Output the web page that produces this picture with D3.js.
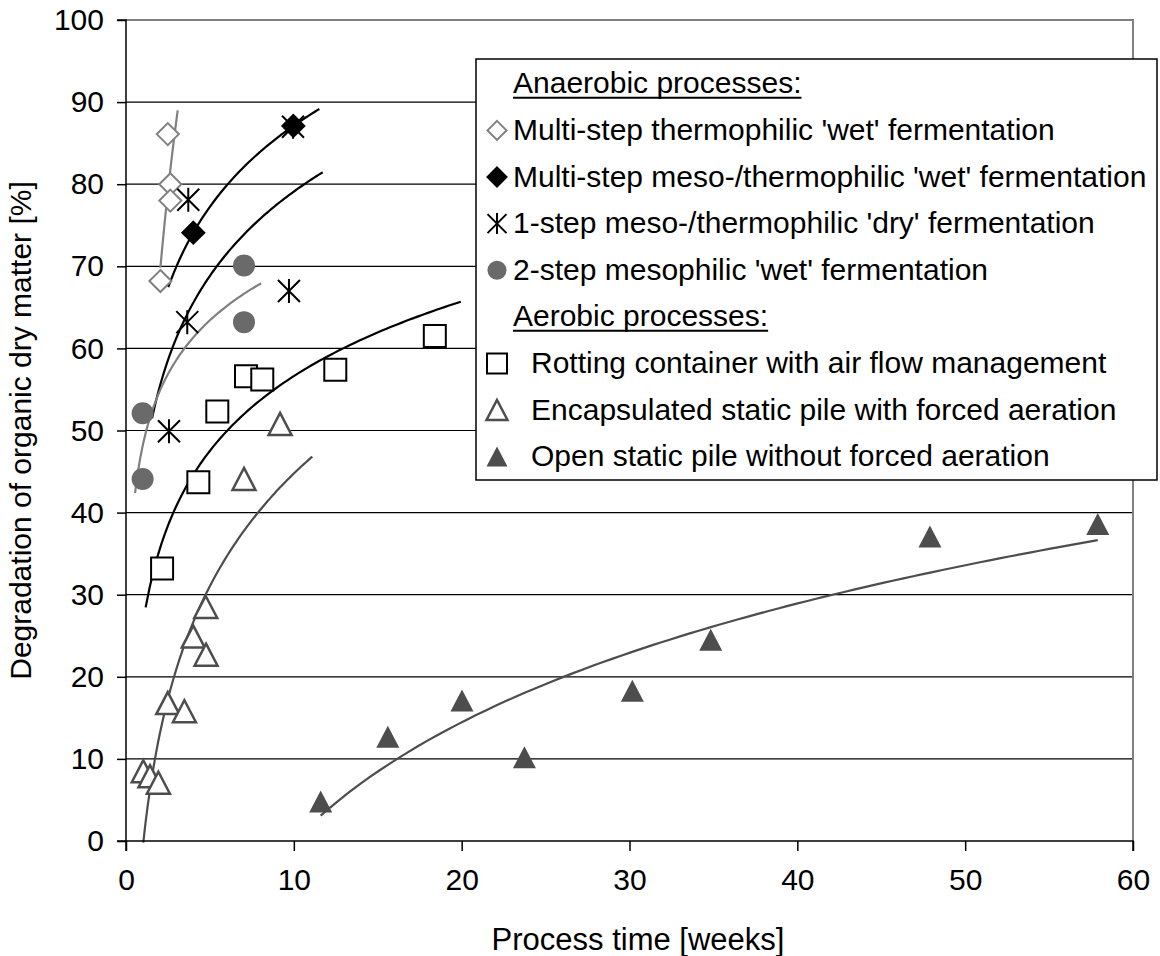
<!DOCTYPE html>
<html>
<head>
<meta charset="utf-8">
<script src="https://cdn.jsdelivr.net/npm/d3@7"></script>
<style>
  body { margin: 0; background: #fff; }
  text { font-family: Arial, "Liberation Sans", sans-serif; fill: #000; }
</style>
</head>
<body>
<svg id="chart" width="1160" height="956"></svg>
<script>
// tick values
const xTicks = [0, 10, 20, 30, 40, 50, 60]
const yTicks = [0, 10, 20, 30, 40, 50, 60, 70, 80, 90, 100]

// [process time in weeks, degradation %]
const thermoWet = [[2.49, 86.1], [2.64, 80.0], [2.64, 78.0], [2.05, 68.2]]
const mesoThermoWet = [[4.01, 74.1], [9.97, 87.1]]
const dryFerm = [[2.56, 49.9], [3.65, 63.2], [3.71, 78.1], [9.71, 67.0], [9.95, 87.0]]
const mesoWet = [[0.99, 52.1], [0.99, 44.1], [7.03, 70.1], [7.03, 63.2]]
const rotting = [[2.15, 33.2], [4.31, 43.7], [5.44, 52.3], [7.15, 56.6], [8.12, 56.2], [12.47, 57.4], [18.4, 61.5]]
const encapsulated = [[1.03, 8.5], [1.43, 7.9], [1.93, 7.1], [2.49, 16.8], [3.48, 15.8], [4.01, 24.9],
  [4.77, 22.7], [4.75, 28.5], [7.03, 44.1], [9.18, 50.8]]
const openPile = [[11.6, 4.8], [15.6, 12.7], [20.02, 17.1], [23.74, 10.2], [30.17, 18.3], [34.84, 24.5],
  [47.9, 37.1], [57.9, 38.6]]

// x extent of each logarithmic trend line (weeks)
const trendRanges = [[2.05, 3.08], [2.52, 11.52], [1.55, 11.72], [0.54, 8.05], [1.17, 19.95], [1.03, 11.1], [11.6, 57.9]]

const series = [
  {name: "Multi-step thermophilic 'wet' fermentation", data: thermoWet, shape: 'diamond', fill: '#fff', stroke: '#808080', line: '#808080'},
  {name: "Multi-step meso-/thermophilic 'wet' fermentation", data: mesoThermoWet, shape: 'diamond', fill: '#000', stroke: '#000', line: '#000'},
  {name: "1-step meso-/thermophilic 'dry' fermentation", data: dryFerm, shape: 'star', fill: 'none', stroke: '#000', line: '#000'},
  {name: "2-step mesophilic 'wet' fermentation", data: mesoWet, shape: 'circle', fill: '#6a6a6a', stroke: 'none', line: '#808080'},
  {name: 'Rotting container with air flow management', data: rotting, shape: 'square', fill: '#fff', stroke: '#000', line: '#000'},
  {name: 'Encapsulated static pile with forced aeration', data: encapsulated, shape: 'triangle', fill: '#fff', stroke: '#4d4d4d', line: '#4d4d4d'},
  {name: 'Open static pile without forced aeration', data: openPile, shape: 'triangle', fill: '#4d4d4d', stroke: 'none', line: '#4d4d4d'}
]

const svg = d3.select('#chart')
const x = d3.scaleLinear().domain([0, 60]).range([126, 1133])
const y = d3.scaleLinear().domain([0, 100]).range([841, 20])

function markerPath(shape, s) {
  const h = s / 2
  if (shape === 'diamond') return `M0,${-h}L${h},0L0,${h}L${-h},0Z`
  if (shape === 'square') return `M${-h},${-h}H${h}V${h}H${-h}Z`
  if (shape === 'triangle') return `M0,${-h}L${h + 0.5},${h}L${-h - 0.5},${h}Z`
  if (shape === 'star') return `M${-h},${-h}L${h},${h}M${h},${-h}L${-h},${h}M0,${-h - 1}L0,${h + 1}`
  return null
}

function drawMarker(sel, d, s) {
  if (d.shape === 'circle') {
    sel.append('circle').attr('r', s / 2).attr('fill', d.fill)
  } else {
    sel.append('path')
      .attr('d', markerPath(d.shape, s))
      .attr('fill', d.fill)
      .attr('stroke', d.stroke)
      .attr('stroke-width', d.shape === 'triangle' ? 2.5 : 2)
      .attr('stroke-linejoin', 'miter')
  }
}

// logarithmic least squares, y = a ln(x) + b
function logFit(pts) {
  const lx = pts.map(p => Math.log(p[0]))
  const ys = pts.map(p => p[1])
  const mx = d3.mean(lx), my = d3.mean(ys)
  const a = d3.sum(lx, (v, i) => (v - mx) * (ys[i] - my)) / d3.sum(lx, v => (v - mx) * (v - mx))
  return {a, b: my - a * mx}
}

// gridlines
svg.append('g').selectAll('line')
  .data(yTicks.filter(v => v > 0 && v < 100))
  .enter().append('line')
  .attr('x1', x(0)).attr('x2', x(60))
  .attr('y1', d => y(d)).attr('y2', d => y(d))
  .attr('stroke', '#000').attr('stroke-width', 1.2)

// plot border (top and right)
svg.append('path')
  .attr('d', `M${x(0)},${y(100)}H${x(60)}V${y(0)}`)
  .attr('fill', 'none').attr('stroke', '#808080').attr('stroke-width', 2)

// trend lines
const trendLine = d3.line().x(d => x(d[0])).y(d => y(d[1]))
series.forEach((s, i) => {
  const fit = logFit(s.data)
  const [x0, x1] = trendRanges[i]
  const xs = d3.range(x0, x1, (x1 - x0) / 80).concat([x1])
  svg.append('path')
    .attr('d', trendLine(xs.map(v => [v, fit.a * Math.log(v) + fit.b])))
    .attr('fill', 'none')
    .attr('stroke', s.line)
    .attr('stroke-width', 2.2)
})

// markers
series.forEach(s => {
  s.data.forEach(p => {
    const g = svg.append('g').attr('transform', `translate(${x(p[0])},${y(p[1])})`)
    drawMarker(g, s, 22)
  })
})

// axes
const xAxis = svg.append('g')
  .attr('transform', `translate(0,${y(0)})`)
  .call(d3.axisBottom(x).tickValues(xTicks).tickSize(10).tickPadding(18))
const yAxis = svg.append('g')
  .attr('transform', `translate(${x(0)},0)`)
  .call(d3.axisLeft(y).tickValues(yTicks).tickSize(9).tickPadding(13))
;[xAxis, yAxis].forEach(a => {
  a.select('.domain').attr('stroke', '#000').attr('stroke-width', 1.5)
  a.selectAll('.tick line').attr('stroke', '#000').attr('stroke-width', 1.5)
  a.selectAll('.tick text').style('font-size', '30px').attr('fill', '#000')
    .style('font-family', 'Arial, "Liberation Sans", sans-serif')
})
yAxis.select('.domain').attr('d', `M-9,${y(100)}H0V${y(0)}H-9`)
xAxis.select('.domain').attr('d', `M${x(0)},10V0H${x(60)}V10`)

// axis titles
svg.append('text')
  .attr('x', 638)
  .attr('y', 950)
  .attr('text-anchor', 'middle')
  .style('font-size', '31px')
  .text('Process time [weeks]')
svg.append('text')
  .attr('transform', `translate(31,${(y(0) + y(100)) / 2}) rotate(-90)`)
  .attr('text-anchor', 'middle')
  .style('font-size', '30px')
  .text('Degradation of organic dry matter [%]')

// legend
const legend = svg.append('g')
legend.append('rect')
  .attr('x', 476).attr('y', 59).attr('width', 681).attr('height', 421)
  .attr('fill', '#fff').attr('stroke', '#000').attr('stroke-width', 1.5)

const rows = [
  {head: 'Anaerobic processes:'}, series[0], series[1], series[2], series[3],
  {head: 'Aerobic processes:'}, series[4], series[5], series[6]
]
rows.forEach((r, i) => {
  const base = 93.3 + i * 46.6
  if (r.head) {
    const t = legend.append('text')
      .attr('x', 513).attr('y', base)
      .style('font-size', '30px')
      .text(r.head)
    const w = t.node().getComputedTextLength()
    legend.append('line')
      .attr('x1', 513).attr('x2', 513 + w)
      .attr('y1', base + 4.5).attr('y2', base + 4.5)
      .attr('stroke', '#000').attr('stroke-width', 2)
  } else {
    const aerobic = i > 5
    const g = legend.append('g').attr('transform', `translate(497,${base - 9.5})`)
    drawMarker(g, r, aerobic ? 20 : 19)
    legend.append('text')
      .attr('x', aerobic ? 531 : 513).attr('y', base)
      .style('font-size', '30px')
      .text(r.name)
  }
})
</script>
</body>
</html>
